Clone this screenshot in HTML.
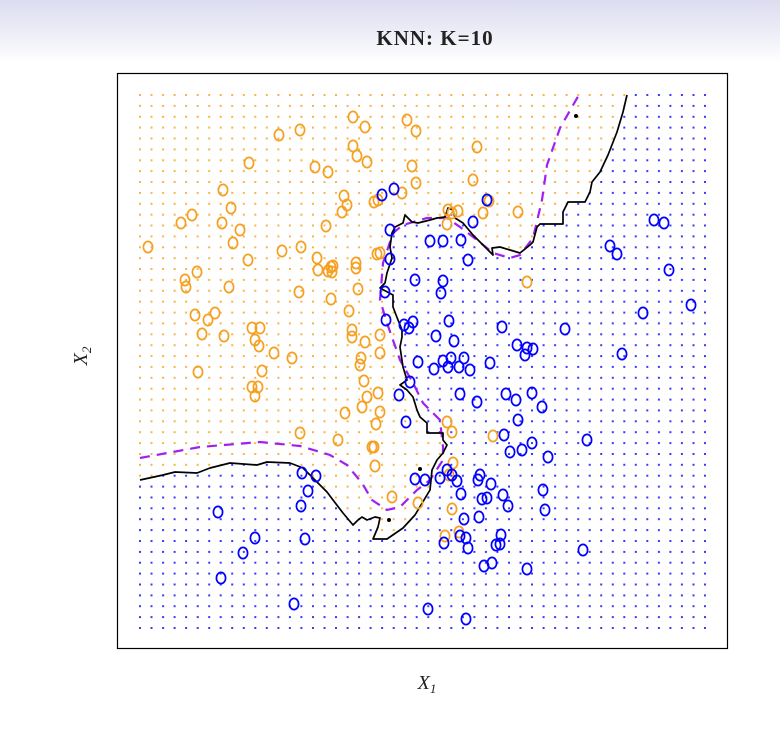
<!DOCTYPE html>
<html><head><meta charset="utf-8"><style>
html,body{margin:0;padding:0;background:#fff;}
#wrap{position:relative;width:780px;height:729px;overflow:hidden;background:linear-gradient(to bottom,#dcdcf0 0px,#f4f4fa 45px,#ffffff 62px,#ffffff 729px);}
svg{position:absolute;left:0;top:0;}
</style></head><body>
<div id="wrap">
<svg id="chart" width="780" height="729" xmlns="http://www.w3.org/2000/svg">
<text x="435" y="45" text-anchor="middle" font-family="Liberation Serif, serif" font-weight="bold" font-size="21" letter-spacing="1" fill="#222">KNN: K=10</text>
<rect x="117.5" y="73.5" width="610" height="575" fill="#fff" stroke="#000" stroke-width="1.2"/>
<g id="grid"></g>
<g id="lines"></g>
<g id="pts"></g>
<text x="427" y="689" text-anchor="middle" font-family="Liberation Serif, serif" font-style="italic" font-size="20" fill="#222">X<tspan font-size="13" dy="4">1</tspan></text>
<text x="0" y="0" transform="translate(87,356) rotate(-90)" text-anchor="middle" font-family="Liberation Serif, serif" font-style="italic" font-size="20" fill="#222">X<tspan font-size="13" dy="4">2</tspan></text>
</svg>
</div>
<script>
// Data values expressed in plot units (linear domain of X1 / X2 as drawn)
const orangeX=[148,181,192,185,186,197,195,208,215,202,224,198,229,222,223,231,240,233,248,249,279,300,252,260,255,259,262,252,258,255,274,292,282,301,299,315,328,317,318,328,331,332,333,331,326,342,344,347,356,353,365,353,357,367,374,377,349,352,352,358,356,365,361,360,364,362,367,380,380,380,378,376,374,372,345,338,300,378,402,412,416,407,416,477,473,483,489,458,452,448,447,518,527,380,375,392,418,449,452,447,452,493,453,445,459];
const orangeY=[247,223,215,280,287,272,315,320,313,334,336,372,287,223,190,208,230,243,260,163,135,130,328,328,340,346,371,387,387,396,353,358,251,247,292,167,172,258,270,271,267,272,266,299,226,212,196,205,263,117,127,146,156,162,202,254,311,330,337,289,268,342,358,365,381,407,397,353,335,412,393,424,447,447,413,440,433,200,193,166,183,120,131,147,180,213,201,211,213,210,224,212,282,253,466,497,503,475,509,422,432,436,463,536,532];
const blueX=[382,394,390,390,385,386,404,413,409,415,443,441,430,443,461,468,473,487,436,454,449,502,418,434,443,448,451,459,464,470,490,517,527,533,525,506,516,532,542,518,504,510,522,532,548,460,477,410,399,406,565,610,617,643,654,664,669,691,622,587,583,527,496,500,492,484,501,452,447,457,480,491,478,461,482,487,503,508,479,464,466,460,468,444,543,545,440,425,415,428,466,294,221,243,255,218,308,302,316,301,305];
const blueY=[195,189,230,259,292,320,325,322,328,280,281,293,241,241,240,260,222,200,336,341,321,327,362,369,361,367,358,367,358,370,363,345,348,349,355,394,400,393,407,420,435,452,450,443,457,394,402,382,395,422,329,246,254,313,220,223,270,305,354,440,550,569,545,544,563,566,535,475,470,481,475,484,480,494,499,498,495,506,517,519,538,536,548,543,490,510,478,480,479,609,619,604,578,553,538,512,491,473,476,506,539];
// KNN (K=10) decision boundary, traced
const knnX=[627,623,617,608,600,592,590,585,568,563,563,540,537,533,530,520,510,500,492,493,485,473,463,455,453,448,445,437,430,418,412,405,403,395,392,390,392,387,385,380,393,393,398,402,402,400,403,407,400,407,413,417,420,427,427,443,443,447,443,437,432,430,415,403,387,373,378,380,375,367,362,358,353,343,333,327,317,303,290,267,257,230,210,197,175,163,140];
const knnY=[95,112,132,155,172,182,192,202,202,212,224,224,227,242,245,253,250,247,248,255,247,235,223,218,210,208,217,218,220,223,222,215,223,227,233,247,258,273,283,288,295,307,320,330,337,347,367,380,385,390,397,410,417,423,433,433,440,445,453,460,470,490,515,528,539,539,527,518,517,520,517,520,525,513,500,492,482,468,463,462,465,463,468,473,472,475,480];
// Bayes decision boundary
const bayesX=[140,200,260,300,330,347,362,372,387,400,417,430,443,443,440,423,413,400,387,380,383,393,403,427,447,460,477,493,510,520,533,542,547,560,580];
const bayesY=[458,447,442,446,455,465,483,500,510,507,490,480,460,447,420,403,383,360,323,300,263,233,225,218,218,227,240,253,258,255,238,200,165,128,93];
const gridN=50;
const gridX0=140, gridX1=705, gridY0=95, gridY1=628;

const NS='http://www.w3.org/2000/svg';
const sx=v=>117+(v-117)*1.0;
const sy=v=>73+(v-73)*1.0;

const poly=knnX.map((x,i)=>[x,knnY[i]]).concat([[130,480],[130,85],[630,85]]);
function inside(x,y){let c=false;for(let i=0,j=poly.length-1;i<poly.length;j=i++){const xi=poly[i][0],yi=poly[i][1],xj=poly[j][0],yj=poly[j][1];if(((yi>y)!=(yj>y))&&(x<(xj-xi)*(y-yi)/(yj-yi)+xi))c=!c;}return c;}

const grid=document.getElementById('grid');
for(let r=0;r<gridN;r++){for(let c=0;c<gridN;c++){
  const x=gridX0+(gridX1-gridX0)*c/(gridN-1), y=gridY0+(gridY1-gridY0)*r/(gridN-1);
  const d=document.createElementNS(NS,'rect');
  d.setAttribute('x',(sx(x)-1).toFixed(1));d.setAttribute('y',(sy(y)-1).toFixed(1));
  d.setAttribute('width','2');d.setAttribute('height','2');
  d.setAttribute('fill',inside(x,y)?'#f7b54a':'#3a3aff');
  
  
  grid.appendChild(d);
}}

const lines=document.getElementById('lines');
function pl(xs,ys,attrs,name){const p=document.createElementNS(NS,'polyline');
  p.setAttribute('points',xs.map((x,i)=>sx(x)+','+sy(ys[i])).join(' '));
  for(const k in attrs)p.setAttribute(k,attrs[k]);
  
  
  lines.appendChild(p);}
pl(bayesX,bayesY,{fill:'none',stroke:'#a020f0','stroke-width':'2.2','stroke-dasharray':'10,7'},'bayes-boundary');
pl(knnX,knnY,{fill:'none',stroke:'#000','stroke-width':'1.7','stroke-linejoin':'round'},'knn-boundary');
[[576,116],[420,469],[389,520]].forEach(p=>{const c=document.createElementNS(NS,'circle');c.setAttribute('cx',sx(p[0]));c.setAttribute('cy',sy(p[1]));c.setAttribute('r','2');c.setAttribute('fill','#000');


lines.appendChild(c);});

const pts=document.getElementById('pts');
function drawPts(xs,ys,col,name){xs.forEach((x,i)=>{const e=document.createElementNS(NS,'ellipse');
  e.setAttribute('cx',sx(x));e.setAttribute('cy',sy(ys[i]));e.setAttribute('rx','4.6');e.setAttribute('ry','5.6');
  e.setAttribute('fill','none');e.setAttribute('stroke',col);e.setAttribute('stroke-width','1.7');
  
  
  pts.appendChild(e);});}
drawPts(orangeX,orangeY,'#f5a020','orange-point');
drawPts(blueX,blueY,'#0000ff','blue-point');
</script>
</body></html>
